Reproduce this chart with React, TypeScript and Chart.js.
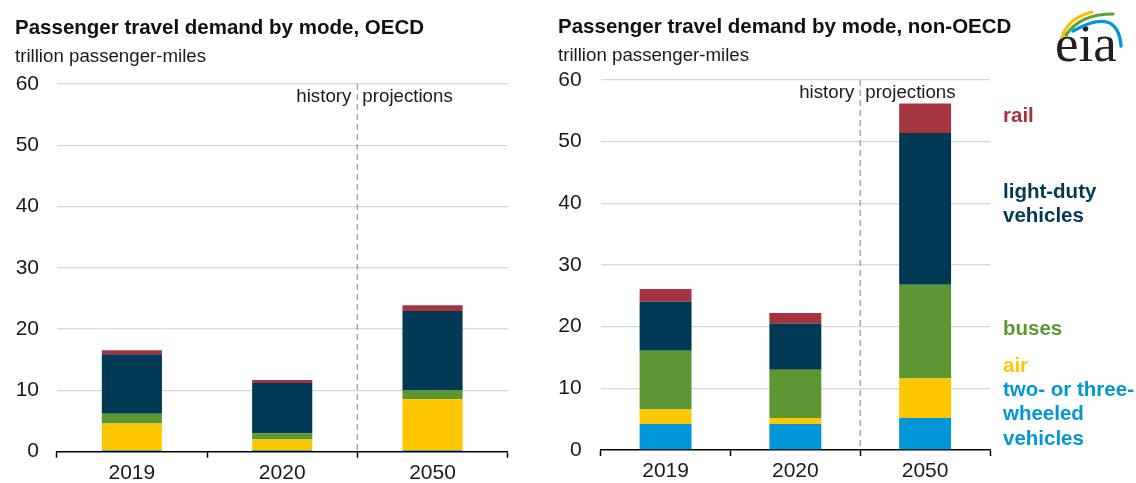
import React, { useEffect, useRef } from "react";
import { Chart, registerables } from "chart.js";

Chart.register(...registerables);

const FONT = "'Liberation Sans', Arial, Helvetica, sans-serif";

const years = ["2019", "2020", "2050"];
const modes = ["two- or three-wheeled vehicles", "air", "buses", "light-duty vehicles", "rail"];
const yTicks = [0, 10, 20, 30, 40, 50, 60];

// OECD (trillion passenger-miles)
const oecdTwoWheel = [0.25, 0.25, 0.25];
const oecdAir = [4.35, 1.75, 8.3];
const oecdBuses = [1.6, 1.0, 1.45];
const oecdLightDuty = [9.7, 8.2, 12.95];
const oecdRail = [0.65, 0.5, 0.95];

// non-OECD (trillion passenger-miles)
const nonTwoWheel = [4.2, 4.2, 5.2];
const nonAir = [2.35, 1.0, 6.4];
const nonBuses = [9.55, 7.8, 15.2];
const nonLightDuty = [8.0, 7.5, 24.6];
const nonRail = [2.0, 1.7, 4.8];

const colors = ["#0096d7", "#ffc702", "#5d9732", "#003953", "#a4343f"];

const legendGroups = [
  { lines: ["rail"], color: colors[4], baseline: 122 },
  { lines: ["light-duty", "vehicles"], color: colors[3], baseline: 198 },
  { lines: ["buses"], color: colors[2], baseline: 335 },
  { lines: ["air"], color: colors[1], baseline: 372 },
  { lines: ["two- or three-", "wheeled", "vehicles"], color: colors[0], baseline: 396 },
];

type Opts = {
  series: number[][];
  title: string;
  subtitle: string;
  titleX: number;
  titleBaseline: number;
  subBaseline: number;
  top: number;
  left: number;
  right: number;
  bottom: number;
  labelPad: number;
  legend: boolean;
};

function makeOverlay(o: Opts) {
  return {
    id: "overlay",
    afterDraw(chart: any) {
      const ctx = chart.ctx as CanvasRenderingContext2D;
      const area = chart.chartArea;
      const xs = chart.scales.x;
      ctx.save();
      // titles
      ctx.fillStyle = "#111";
      ctx.textAlign = "left";
      ctx.textBaseline = "alphabetic";
      ctx.font = `bold 20.5px ${FONT}`;
      ctx.fillText(o.title, o.titleX, o.titleBaseline);
      ctx.font = `18.7px ${FONT}`;
      ctx.fillStyle = "#1a1a1a";
      ctx.fillText(o.subtitle, o.titleX, o.subBaseline);

      // history / projections divider
      const dx = (xs.getPixelForValue(1) + xs.getPixelForValue(2)) / 2;
      ctx.strokeStyle = "#a6a6a6";
      ctx.lineWidth = 1.5;
      ctx.setLineDash([6, 4]);
      ctx.beginPath();
      ctx.moveTo(dx, area.top);
      ctx.lineTo(dx, area.bottom);
      ctx.stroke();
      ctx.setLineDash([]);
      ctx.font = `18.7px ${FONT}`;
      ctx.fillStyle = "#1a1a1a";
      ctx.textAlign = "right";
      ctx.fillText("history", dx - 6, area.top + 17.5);
      ctx.textAlign = "left";
      ctx.fillText("projections", dx + 5, area.top + 17.5);

      if (o.legend) {
        const offX = 540;
        ctx.font = `bold 20.5px ${FONT}`;
        ctx.textAlign = "left";
        for (const g of legendGroups) {
          ctx.fillStyle = g.color;
          g.lines.forEach((t, i) => ctx.fillText(t, 1003 - offX, g.baseline + i * 24.3));
        }
        // eia logo
        ctx.fillStyle = "#231f20";
        ctx.font = `53px 'Liberation Serif', 'Times New Roman', serif`;
        ctx.fillText("eia", 1055 - offX, 61);
        ctx.lineCap = "round";
        const arc = (c: string, w: number, x0: number, y0: number, cx: number, cy: number, x1: number, y1: number) => {
          ctx.strokeStyle = c;
          ctx.lineWidth = w;
          ctx.beginPath();
          ctx.moveTo(x0 - offX, y0);
          ctx.quadraticCurveTo(cx - offX, cy, x1 - offX, y1);
          ctx.stroke();
        };
        arc("#f5c400", 3, 1062, 37, 1068, 18, 1092, 12);
        arc("#5aa13c", 3.2, 1066, 35, 1080, 14, 1113, 14);
        arc("#0096d7", 3.4, 1073, 31, 1118, 6, 1121, 46);
      }
      ctx.restore();
    },
  };
}

function makeConfig(o: Opts): any {
  return {
    type: "bar",
    data: {
      labels: years,
      datasets: modes.map((m, i) => ({
        label: m,
        data: o.series[i],
        backgroundColor: colors[i],
        borderWidth: 0,
        barPercentage: 0.4,
        categoryPercentage: 1,
      })),
    },
    options: {
      responsive: false,
      animation: false,
      devicePixelRatio: 1,
      layout: { padding: { top: o.top, right: o.right, bottom: 0, left: 0 } },
      plugins: { legend: { display: false }, tooltip: { enabled: false }, title: { display: false } },
      scales: {
        x: {
          stacked: true,
          grid: {
            display: true,
            drawOnChartArea: false,
            drawTicks: true,
            tickLength: 6,
            tickColor: "#000",
            tickWidth: 1.5,
            offset: true,
          },
          border: { display: true, color: "#000", width: 1.5 },
          ticks: { color: "#1a1a1a", font: { size: 21, family: FONT }, padding: 3 },
          afterFit: (s: any) => {
            s.height = o.bottom;
          },
        },
        y: {
          stacked: true,
          min: 0,
          max: 60,
          afterBuildTicks: (s: any) => {
            s.ticks = yTicks.map((v) => ({ value: v }));
          },
          ticks: { color: "#1a1a1a", font: { size: 21, family: FONT }, padding: o.labelPad },
          grid: {
            color: (c: any) => (c.tick && c.tick.value === 0 ? "rgba(0,0,0,0)" : "#d6d6d6"),
            lineWidth: 1.3,
            drawTicks: false,
          },
          border: { display: false },
          afterFit: (s: any) => {
            s.width = o.left;
          },
        },
      },
    },
    plugins: [makeOverlay(o)],
  };
}

export default function App() {
  const leftRef = useRef<HTMLCanvasElement>(null);
  const rightRef = useRef<HTMLCanvasElement>(null);

  useEffect(() => {
    Chart.defaults.font.family = FONT;
    const c1 = new Chart(
      leftRef.current!,
      makeConfig({
        series: [oecdTwoWheel, oecdAir, oecdBuses, oecdLightDuty, oecdRail],
        title: "Passenger travel demand by mode, OECD",
        subtitle: "trillion passenger-miles",
        titleX: 15,
        titleBaseline: 34,
        subBaseline: 62,
        top: 84,
        left: 56.7,
        right: 540 - 507.7,
        bottom: 483 - 451.7,
        labelPad: 17.7,
        legend: false,
      })
    );
    const c2 = new Chart(
      rightRef.current!,
      makeConfig({
        series: [nonTwoWheel, nonAir, nonBuses, nonLightDuty, nonRail],
        title: "Passenger travel demand by mode, non-OECD",
        subtitle: "trillion passenger-miles",
        titleX: 18,
        titleBaseline: 33,
        subBaseline: 61,
        top: 80,
        left: 60.7,
        right: 596 - 450,
        bottom: 483 - 450,
        labelPad: 19,
        legend: true,
      })
    );
    return () => {
      c1.destroy();
      c2.destroy();
    };
  }, []);

  return (
    <div style={{ position: "fixed", left: 0, top: 0, width: 1136, height: 483, background: "#fff" }}>
      <canvas ref={leftRef} width={540} height={483} style={{ position: "absolute", left: 0, top: 0 }} />
      <canvas ref={rightRef} width={596} height={483} style={{ position: "absolute", left: 540, top: 0 }} />
    </div>
  );
}
